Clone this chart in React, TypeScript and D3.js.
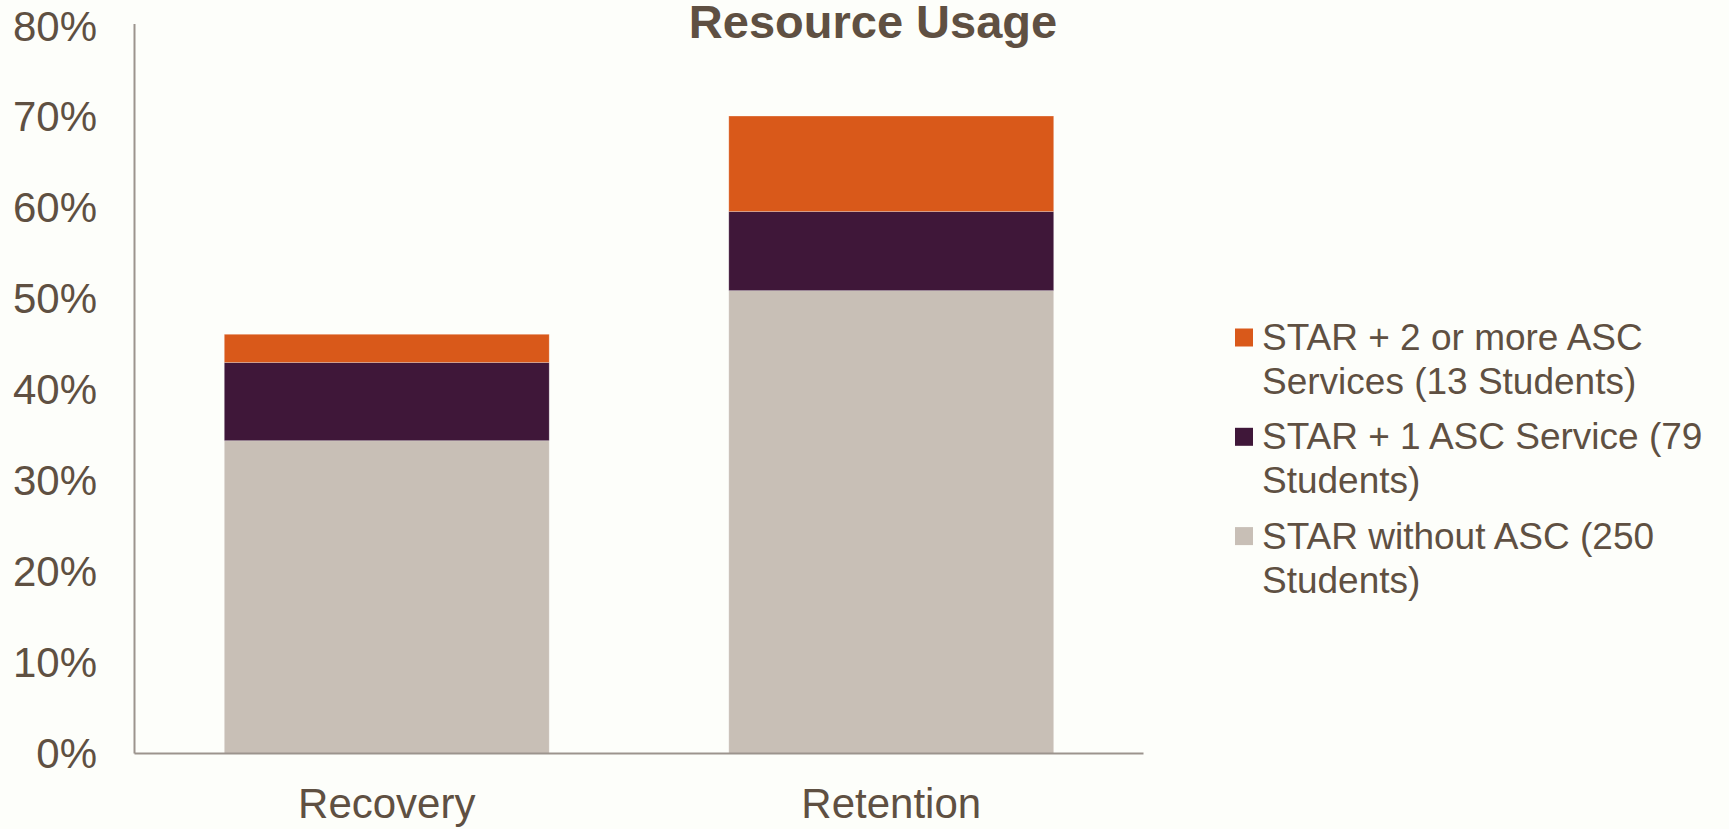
import React from "react";
import * as d3 from "d3";

const categories = ["Recovery", "Retention"];
const seriesKeys = ["without", "one", "twoPlus"];
const withoutASC = [34.4, 50.9];
const oneASC = [8.6, 8.7];
const twoPlusASC = [3.1, 10.5];
const yTicks = [0, 10, 20, 30, 40, 50, 60, 70, 80];
const legendLines = [
  { key: "twoPlus", lines: ["STAR + 2 or more ASC", "Services (13 Students)"] },
  { key: "one", lines: ["STAR + 1 ASC Service (79", "Students)"] },
  { key: "without", lines: ["STAR without ASC (250", "Students)"] },
];
const title = "Resource Usage";

const colors: Record<string, string> = {
  without: "#C8BFB6",
  one: "#3F1739",
  twoPlus: "#D9591A",
};

const W = 1729;
const H = 829;
const margin = { left: 134.5, right: 1143.5, top: 24, bottom: 753.5 };
const textColor = "#5F5042";
const font = "Liberation Sans, Arial, sans-serif";

export default function App() {
  const table = categories.map((c, i) => ({
    cat: c,
    without: withoutASC[i],
    one: oneASC[i],
    twoPlus: twoPlusASC[i],
  }));
  const stack = d3.stack<any>().keys(seriesKeys)(table);
  const x = d3
    .scaleBand()
    .domain(categories)
    .range([margin.left, margin.right])
    .paddingInner(0.356)
    .paddingOuter(0.178);
  const y = d3.scaleLinear().domain([0, 80]).range([margin.bottom, margin.top + 2]);

  return (
    <svg
      width={W}
      height={H}
      style={{ position: "absolute", left: 0, top: 0, display: "block" }}
      fontFamily={font}
    >
      <rect x={0} y={0} width={W} height={H} fill="#FDFEFA" />
      {stack.map((s) =>
        s.map((d, i) => (
          <rect
            key={s.key + i}
            x={x(categories[i])}
            width={x.bandwidth()}
            y={y(d[1])}
            height={y(d[0]) - y(d[1])}
            fill={colors[s.key]}
            stroke="#ffffff"
            strokeOpacity={0.3}
            strokeWidth={0.8}
          />
        ))
      )}
      <line x1={margin.left} x2={margin.left} y1={margin.top} y2={margin.bottom} stroke="#9C948D" strokeWidth={2} />
      <line x1={margin.left} x2={margin.right} y1={margin.bottom} y2={margin.bottom} stroke="#9C948D" strokeWidth={2} />
      {yTicks.map((t) => (
        <text
          key={t}
          x={97}
          y={y(t)}
          textAnchor="end"
          dominantBaseline="central"
          fontSize={42}
          fill={textColor}
        >
          {t}%
        </text>
      ))}
      {categories.map((c) => (
        <text
          key={c}
          x={(x(c) as number) + x.bandwidth() / 2}
          y={818}
          textAnchor="middle"
          fontSize={42}
          fill={textColor}
        >
          {c}
        </text>
      ))}
      <text x={873} y={38} textAnchor="middle" fontSize={47} fontWeight="bold" fill={textColor}>
        {title}
      </text>
      {legendLines.map((l, i) => {
        const cy = 337.5 + i * 99.3;
        return (
          <g key={l.key}>
            <rect x={1235} y={cy - 9} width={18} height={18} fill={colors[l.key]} />
            {l.lines.map((ln, j) => (
              <text
                key={j}
                x={1262}
                y={cy + j * 44}
                dominantBaseline="central"
                fontSize={37}
                fill={textColor}
              >
                {ln}
              </text>
            ))}
          </g>
        );
      })}
    </svg>
  );
}
